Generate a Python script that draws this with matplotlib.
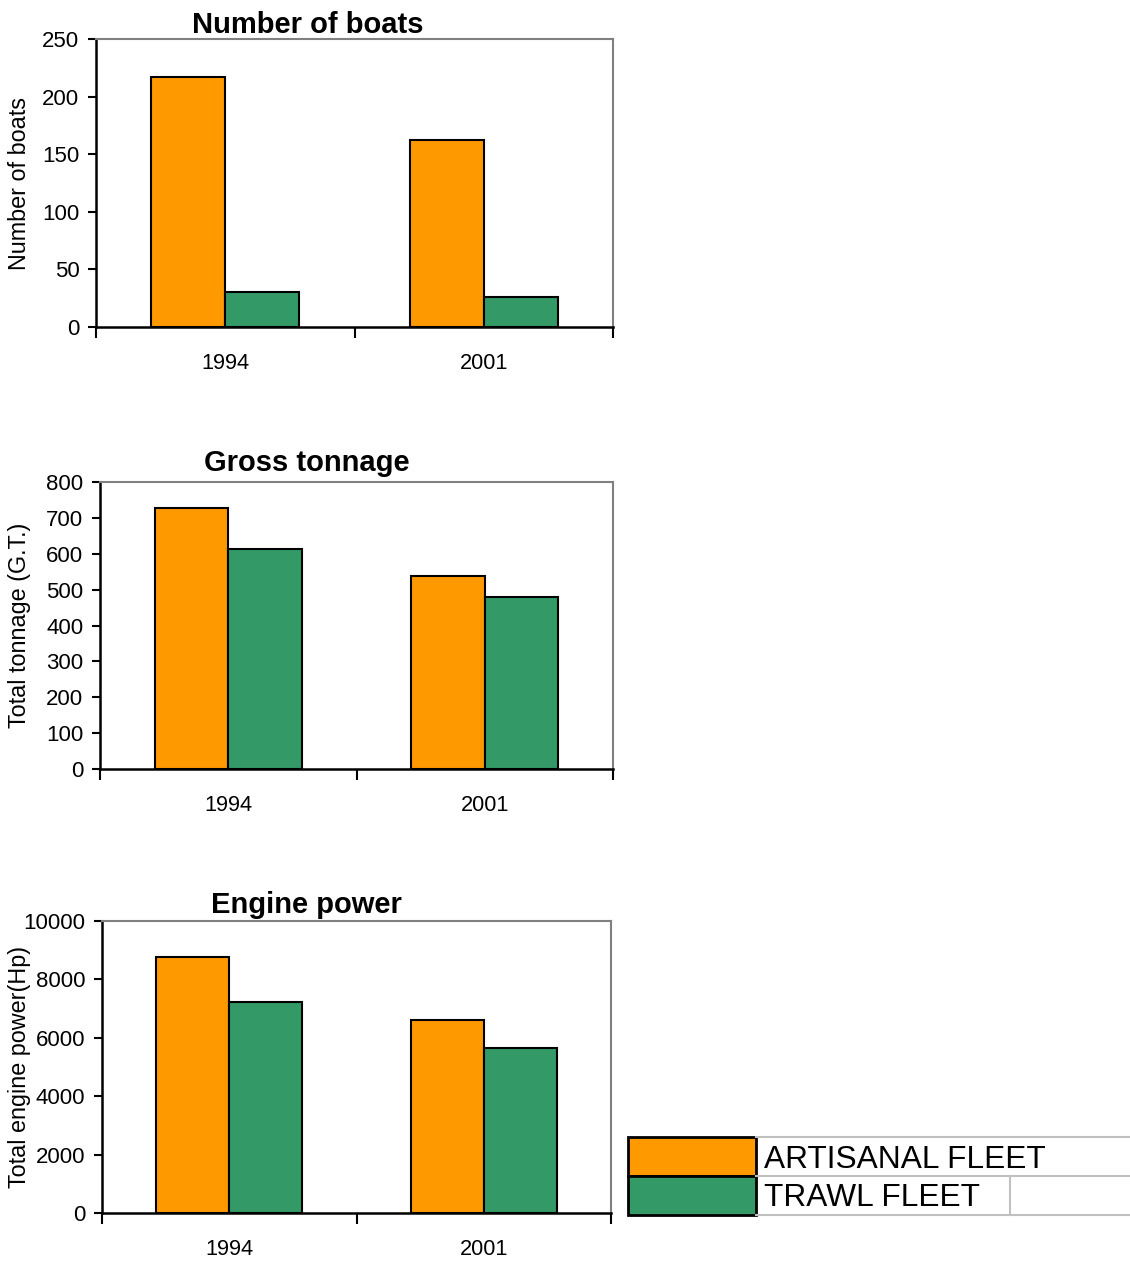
import numpy as np
import matplotlib
matplotlib.use("Agg")
import matplotlib.pyplot as plt
from matplotlib.patches import Rectangle
from matplotlib.lines import Line2D

plt.rcParams['font.family'] = ['Liberation Sans', 'DejaVu Sans']

years = ['1994', '2001']
series_names = ['ARTISANAL FLEET', 'TRAWL FLEET']
colors = ['#FF9900', '#339966']

boats_artisanal = [217, 162]
boats_trawl = [30, 26]
tonnage_artisanal = [727, 538]
tonnage_trawl = [613, 479]
power_artisanal = [8770, 6610]
power_trawl = [7230, 5650]

titles = ['Number of boats', 'Gross tonnage', 'Engine power']
ylabels = ['Number of boats', 'Total tonnage (G.T.)', 'Total engine power(Hp)']
yticks = [np.arange(0, 251, 50), np.arange(0, 801, 100), np.arange(0, 10001, 2000)]

W, H = 1130, 1263
fig = plt.figure(figsize=(W / 100, H / 100), dpi=100)

# axes boxes in pixels: left, top, right, bottom
boxes = [(96, 39, 613, 327), (100, 482, 613, 769), (102, 921, 611, 1213)]
title_x = [308, 307, 306]
title_pad = [4, 8, 6]
data = [(boats_artisanal, boats_trawl),
        (tonnage_artisanal, tonnage_trawl),
        (power_artisanal, power_trawl)]

bw = 0.286
x = np.arange(len(years))
for i, (l, t, r, b) in enumerate(boxes):
    ax = fig.add_axes([l / W, 1 - b / H, (r - l) / W, (b - t) / H])
    a, tr = data[i]
    ax.bar(x - bw / 2, a, bw, color=colors[0], edgecolor='black', linewidth=1.5, zorder=3)
    ax.bar(x + bw / 2, tr, bw, color=colors[1], edgecolor='black', linewidth=1.5, zorder=3)
    ax.set_xlim(-0.5, 1.5)
    ax.set_ylim(yticks[i][0], yticks[i][-1])
    ax.set_yticks(yticks[i])
    ax.tick_params(axis='y', direction='out', length=6, width=1.5, pad=6, labelsize=16)
    ax.set_xticks([-0.5, 0.5, 1.5])
    ax.set_xticklabels([])
    ax.tick_params(axis='x', which='major', direction='out', length=8, width=1.5)
    ax.set_xticks(x, minor=True)
    ax.set_xticklabels(years, minor=True)
    ax.tick_params(axis='x', which='minor', length=0, pad=19, labelsize=15.7)
    for s in ['left', 'bottom']:
        ax.spines[s].set_color('black')
        ax.spines[s].set_linewidth(1.8)
    for s in ['top', 'right']:
        ax.spines[s].set_color('#808080')
        ax.spines[s].set_linewidth(1.5)
    ax.set_title(titles[i], x=(title_x[i] - l) / (r - l), pad=title_pad[i],
                 fontsize=21, fontweight='bold')
    ax.set_ylabel(ylabels[i], fontsize=16.8)
    ax.yaxis.set_label_coords((31 - l) / (r - l), 0.5)

# legend drawn as spreadsheet-like cells
lax = fig.add_axes([620 / W, 1 - 1225 / H, 510 / W, 100 / H])
lax.set_xlim(620, 1130)
lax.set_ylim(1225, 1125)
lax.axis('off')
grid = '#C0C0C0'
for yy in [1137, 1176, 1215]:
    lax.add_line(Line2D([756, 1130], [yy, yy], color=grid, lw=1.5))
lax.add_line(Line2D([1010, 1010], [1176, 1215], color=grid, lw=1.5))
rows = [(1137, 1176), (1176, 1215)]
for k, (y0, y1) in enumerate(rows):
    lax.add_patch(Rectangle((628, y0), 128, y1 - y0, facecolor=colors[k],
                            edgecolor='black', lw=2))
    lax.text(764, (y0 + y1) / 2 + 3, series_names[k], fontsize=22.8, va='center', ha='left')

fig.savefig('out.png', dpi=100)
